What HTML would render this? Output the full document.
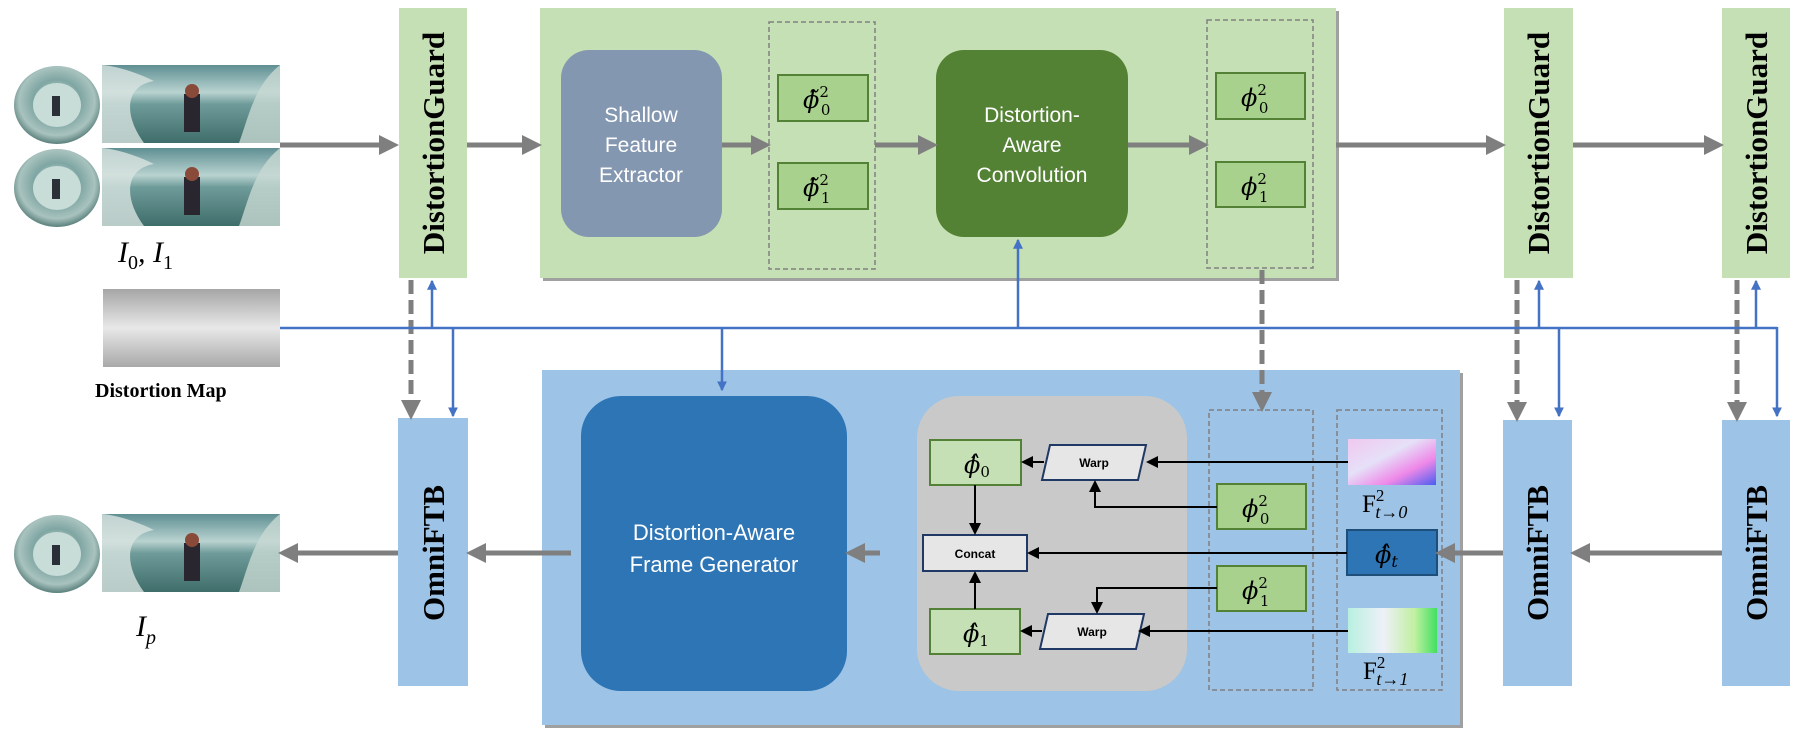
<!DOCTYPE html>
<html><head><meta charset="utf-8"><style>html,body{margin:0;padding:0;background:#fff}svg{display:block}</style></head><body>
<svg width="1800" height="736" viewBox="0 0 1800 736" xmlns="http://www.w3.org/2000/svg">
<defs>
<linearGradient id="sea" x1="0" y1="0" x2="0" y2="1"><stop offset="0" stop-color="#5f8f93"/><stop offset="0.35" stop-color="#b9d3d0"/><stop offset="0.5" stop-color="#6f9c9a"/><stop offset="1" stop-color="#3f6d6a"/></linearGradient>
<radialGradient id="fish" cx="0.5" cy="0.45" r="0.55"><stop offset="0" stop-color="#d8e6e2"/><stop offset="0.5" stop-color="#7fa6a3"/><stop offset="0.8" stop-color="#a9c3bf"/><stop offset="1" stop-color="#5a807c"/></radialGradient>
<linearGradient id="dmap" x1="0" y1="0" x2="0" y2="1"><stop offset="0" stop-color="#a6a6a6"/><stop offset="0.5" stop-color="#e8e8e8"/><stop offset="1" stop-color="#a9a9a9"/></linearGradient>
<linearGradient id="fl1" x1="0" y1="0" x2="1" y2="1"><stop offset="0" stop-color="#f0c8f0"/><stop offset="0.4" stop-color="#e6e0f8"/><stop offset="0.7" stop-color="#ee88e8"/><stop offset="1" stop-color="#4a5cf0"/></linearGradient>
<linearGradient id="fl2" x1="0" y1="0" x2="1" y2="0"><stop offset="0" stop-color="#b8f0e0"/><stop offset="0.4" stop-color="#eef0f8"/><stop offset="0.75" stop-color="#c0f0a0"/><stop offset="1" stop-color="#40e060"/></linearGradient>
<marker id="ag" markerWidth="4" markerHeight="4" refX="3" refY="2" orient="auto" markerUnits="strokeWidth"><path d="M0,0 L4,2 L0,4 z" fill="#7f7f7f"/></marker>
<marker id="ab" markerWidth="4" markerHeight="4" refX="3.5" refY="2" orient="auto" markerUnits="strokeWidth"><path d="M0,0 L4,2 L0,4 z" fill="#4472c4"/></marker>
<marker id="ak" markerWidth="6" markerHeight="6" refX="5" refY="3" orient="auto" markerUnits="strokeWidth"><path d="M0,0 L6,3 L0,6 z" fill="#000"/></marker>
<g id="surf">
<ellipse cx="43" cy="39" rx="43" ry="39" fill="url(#fish)"/>
<ellipse cx="43" cy="39" rx="24" ry="22" fill="#c8dcd8"/>
<rect x="38" y="30" width="8" height="20" fill="#2a2f38"/>
<rect x="88" y="-1" width="178" height="78" fill="url(#sea)"/>
<path d="M88,-1 L88,77 L130,77 C110,50 110,20 140,15 C120,5 100,0 88,-1z" fill="#d8e4e0" opacity="0.8"/>
<path d="M266,-1 L266,77 L225,77 C235,50 240,20 266,-1z" fill="#c8d8d2" opacity="0.8"/>
<rect x="170" y="28" width="16" height="38" fill="#2a2630"/>
<circle cx="178" cy="25" r="7" fill="#8a4a3a"/>
</g>
</defs>

<use href="#surf" x="14" y="66"/>
<use href="#surf" x="14" y="149"/>
<use href="#surf" x="14" y="515"/>
<text x="118" y="262" font-family="Liberation Serif" font-style="italic" font-size="30">I<tspan font-size="20" dy="7" font-style="normal">0</tspan><tspan dy="-7">, I</tspan><tspan font-size="20" dy="7" font-style="normal">1</tspan></text>
<text x="136" y="636" font-family="Liberation Serif" font-style="italic" font-size="30">I<tspan font-size="20" dy="8">p</tspan></text>
<rect x="103" y="289" width="177" height="78" fill="url(#dmap)"/>
<text x="95" y="397" font-family="Liberation Serif" font-weight="bold" font-size="20">Distortion Map</text>

<rect x="543" y="11" width="796" height="270" fill="#a0a0a0"/>
<rect x="540" y="8" width="796" height="270" fill="#c5e0b4"/>
<rect x="561" y="50" width="161" height="187" rx="28" fill="#8497b0"/>
<text fill="#fff" font-family="Liberation Sans" font-size="21" text-anchor="middle"><tspan x="641" y="122">Shallow</tspan><tspan x="641" y="152">Feature</tspan><tspan x="641" y="182">Extractor</tspan></text>
<rect x="769" y="22" width="106" height="247" fill="none" stroke="#808080" stroke-width="1.5" stroke-dasharray="5,3"/>
<rect x="778" y="75" width="90" height="46" fill="#a9d18e" stroke="#538135" stroke-width="2"/>
<rect x="778" y="163" width="90" height="46" fill="#a9d18e" stroke="#538135" stroke-width="2"/>
<text x="803" y="108" font-family="DejaVu Serif" font-style="italic" font-size="24">ϕ̃<tspan font-size="15" dy="-11" font-style="normal">2</tspan><tspan font-size="15" dx="-8" dy="18" font-style="normal">0</tspan></text>
<text x="803" y="196" font-family="DejaVu Serif" font-style="italic" font-size="24">ϕ̃<tspan font-size="15" dy="-11" font-style="normal">2</tspan><tspan font-size="15" dx="-8" dy="18" font-style="normal">1</tspan></text>
<rect x="936" y="50" width="192" height="187" rx="28" fill="#548235"/>
<text fill="#fff" font-family="Liberation Sans" font-size="21" text-anchor="middle"><tspan x="1032" y="122">Distortion-</tspan><tspan x="1032" y="152">Aware</tspan><tspan x="1032" y="182">Convolution</tspan></text>
<rect x="1207" y="20" width="106" height="248" fill="none" stroke="#808080" stroke-width="1.5" stroke-dasharray="5,3"/>
<rect x="1216" y="73" width="89" height="46" fill="#a9d18e" stroke="#538135" stroke-width="2"/>
<rect x="1216" y="162" width="89" height="45" fill="#a9d18e" stroke="#538135" stroke-width="2"/>
<text x="1241" y="106" font-family="DejaVu Serif" font-style="italic" font-size="24">ϕ<tspan font-size="15" dy="-11" font-style="normal">2</tspan><tspan font-size="15" dx="-8" dy="18" font-style="normal">0</tspan></text>
<text x="1241" y="195" font-family="DejaVu Serif" font-style="italic" font-size="24">ϕ<tspan font-size="15" dy="-11" font-style="normal">2</tspan><tspan font-size="15" dx="-8" dy="18" font-style="normal">1</tspan></text>

<g font-family="Liberation Serif" font-weight="bold" font-size="31">
<rect x="399" y="8" width="68" height="270" fill="#c5e0b4"/>
<text transform="translate(444,143) rotate(-90)" text-anchor="middle">DistortionGuard</text>
<rect x="1504" y="8" width="69" height="270" fill="#c5e0b4"/>
<text transform="translate(1549,143) rotate(-90)" text-anchor="middle">DistortionGuard</text>
<rect x="1722" y="8" width="68" height="270" fill="#c5e0b4"/>
<text transform="translate(1767,143) rotate(-90)" text-anchor="middle">DistortionGuard</text>
</g>

<rect x="545" y="373" width="918" height="355" fill="#a0a0a0"/>
<rect x="542" y="370" width="918" height="355" fill="#9dc3e6"/>
<rect x="581" y="396" width="266" height="295" rx="40" fill="#2e75b6"/>
<text fill="#fff" font-family="Liberation Sans" font-size="22" text-anchor="middle"><tspan x="714" y="540">Distortion-Aware</tspan><tspan x="714" y="572">Frame Generator</tspan></text>
<rect x="917" y="396" width="270" height="295" rx="42" fill="#c9c9c9"/>
<rect x="1209" y="410" width="104" height="280" fill="none" stroke="#808080" stroke-width="1.5" stroke-dasharray="5,3"/>
<rect x="1337" y="410" width="105" height="280" fill="none" stroke="#808080" stroke-width="1.5" stroke-dasharray="5,3"/>
<rect x="1217" y="484" width="89" height="45" fill="#a9d18e" stroke="#538135" stroke-width="2"/>
<rect x="1217" y="566" width="89" height="45" fill="#a9d18e" stroke="#538135" stroke-width="2"/>
<text x="1242" y="517" font-family="DejaVu Serif" font-style="italic" font-size="24">ϕ<tspan font-size="15" dy="-11" font-style="normal">2</tspan><tspan font-size="15" dx="-8" dy="18" font-style="normal">0</tspan></text>
<text x="1242" y="599" font-family="DejaVu Serif" font-style="italic" font-size="24">ϕ<tspan font-size="15" dy="-11" font-style="normal">2</tspan><tspan font-size="15" dx="-8" dy="18" font-style="normal">1</tspan></text>
<rect x="1348" y="439" width="88" height="46" fill="url(#fl1)"/>
<rect x="1348" y="608" width="89" height="45" fill="url(#fl2)"/>
<rect x="1347" y="530" width="90" height="45" fill="#2e75b6" stroke="#1f4e79" stroke-width="2"/>
<text x="1375" y="563" font-family="DejaVu Serif" font-style="italic" font-size="24">ϕ̂<tspan font-size="16" dy="4">t</tspan></text>
<text x="1362" y="512" font-family="Liberation Serif" font-size="25">F<tspan font-size="17" dy="-11">2</tspan><tspan font-size="18" dx="-9" dy="17" font-style="italic">t→0</tspan></text>
<text x="1363" y="679" font-family="Liberation Serif" font-size="25">F<tspan font-size="17" dy="-11">2</tspan><tspan font-size="18" dx="-9" dy="17" font-style="italic">t→1</tspan></text>

<rect x="930" y="440" width="91" height="45" fill="#c5e0b4" stroke="#538135" stroke-width="2"/>
<rect x="930" y="609" width="90" height="45" fill="#c5e0b4" stroke="#538135" stroke-width="2"/>
<text x="964" y="473" font-family="DejaVu Serif" font-style="italic" font-size="24">ϕ̂<tspan font-size="15" dy="4" font-style="normal">0</tspan></text>
<text x="963" y="642" font-family="DejaVu Serif" font-style="italic" font-size="24">ϕ̂<tspan font-size="15" dy="4" font-style="normal">1</tspan></text>
<polygon points="1050,445 1146,445 1138,480 1042,480" fill="#e7e6e6" stroke="#203864" stroke-width="2"/>
<polygon points="1048,614 1144,614 1136,649 1040,649" fill="#e7e6e6" stroke="#203864" stroke-width="2"/>
<text x="1094" y="467" font-family="Liberation Sans" font-weight="bold" font-size="12" text-anchor="middle">Warp</text>
<text x="1092" y="636" font-family="Liberation Sans" font-weight="bold" font-size="12" text-anchor="middle">Warp</text>
<rect x="923" y="535" width="104" height="36" fill="#e7e6e6" stroke="#203864" stroke-width="2"/>
<text x="975" y="558" font-family="Liberation Sans" font-weight="bold" font-size="12" text-anchor="middle">Concat</text>

<g font-family="Liberation Serif" font-weight="bold" font-size="31">
<rect x="398" y="418" width="70" height="268" fill="#9dc3e6"/>
<text transform="translate(444,553) rotate(-90)" text-anchor="middle">OmniFTB</text>
<rect x="1503" y="420" width="69" height="266" fill="#9dc3e6"/>
<text transform="translate(1548,553) rotate(-90)" text-anchor="middle">OmniFTB</text>
<rect x="1722" y="420" width="68" height="266" fill="#9dc3e6"/>
<text transform="translate(1767,553) rotate(-90)" text-anchor="middle">OmniFTB</text>
</g>

<g stroke="#000" stroke-width="2" fill="none" marker-end="url(#ak)">
<line x1="1348" y1="462" x2="1148" y2="462"/>
<polyline points="1217,507 1095,507 1095,482"/>
<line x1="1044" y1="462" x2="1023" y2="462"/>
<line x1="975" y1="485" x2="975" y2="533"/>
<line x1="1347" y1="553" x2="1029" y2="553"/>
<line x1="975" y1="609" x2="975" y2="573"/>
<polyline points="1217,588 1097,588 1097,612"/>
<line x1="1348" y1="631" x2="1140" y2="631"/>
<line x1="1042" y1="631" x2="1022" y2="631"/>
</g>

<g stroke="#7f7f7f" stroke-width="5" fill="none" marker-end="url(#ag)">
<line x1="280" y1="145" x2="394" y2="145"/>
<line x1="467" y1="145" x2="537" y2="145"/>
<line x1="722" y1="145" x2="766" y2="145"/>
<line x1="875" y1="145" x2="933" y2="145"/>
<line x1="1128" y1="145" x2="1204" y2="145"/>
<line x1="1336" y1="145" x2="1501" y2="145"/>
<line x1="1573" y1="145" x2="1719" y2="145"/>
<line x1="1503" y1="553" x2="1440" y2="553"/>
<line x1="1722" y1="553" x2="1575" y2="553"/>
<line x1="880" y1="553" x2="850" y2="553"/>
<line x1="571" y1="553" x2="471" y2="553"/>
<line x1="398" y1="553" x2="283" y2="553"/>
</g>
<g stroke="#7f7f7f" stroke-width="5" fill="none" stroke-dasharray="14,6" marker-end="url(#ag)">
<line x1="411" y1="280" x2="411" y2="415"/>
<line x1="1262" y1="270" x2="1262" y2="407"/>
<line x1="1517" y1="280" x2="1517" y2="417"/>
<line x1="1737" y1="280" x2="1737" y2="417"/>
</g>

<g stroke="#4472c4" stroke-width="2.5" fill="none">
<polyline points="280,328 1777,328"/>
<line x1="1777" y1="327" x2="1777" y2="416" marker-end="url(#ab)"/>
<line x1="432" y1="328" x2="432" y2="281" marker-end="url(#ab)"/>
<line x1="453" y1="328" x2="453" y2="416" marker-end="url(#ab)"/>
<line x1="722" y1="328" x2="722" y2="390" marker-end="url(#ab)"/>
<line x1="1018" y1="328" x2="1018" y2="240" marker-end="url(#ab)"/>
<line x1="1539" y1="328" x2="1539" y2="281" marker-end="url(#ab)"/>
<line x1="1756" y1="328" x2="1756" y2="281" marker-end="url(#ab)"/>
<line x1="1559" y1="328" x2="1559" y2="416" marker-end="url(#ab)"/>
</g>
</svg>
</body></html>
